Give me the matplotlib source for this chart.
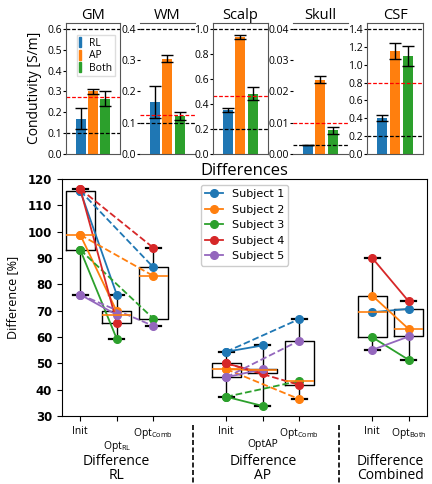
import numpy as np
import matplotlib as mpl
mpl.use('Agg')
import matplotlib.pyplot as plt  # noqa
import matplotlib.transforms as mtransforms  # noqa
from matplotlib.patches import Patch  # noqa

# conductivity estimates per tissue: RL, AP, Both
tissues = ['GM', 'WM', 'Scalp', 'Skull', 'CSF']
directions = ['RL', 'AP', 'Both']
gm_mean = [0.17, 0.302, 0.265]
gm_err = [0.05, 0.012, 0.037]
wm_mean = [0.166, 0.305, 0.122]
wm_err = [0.052, 0.012, 0.012]
scalp_mean = [0.352, 0.935, 0.483]
scalp_err = [0.018, 0.017, 0.055]
skull_mean = [0.003, 0.0238, 0.0076]
skull_err = [0.0, 0.0012, 0.0011]
csf_mean = [0.40, 1.155, 1.10]
csf_err = [0.035, 0.09, 0.11]
lit_value = [0.275, 0.126, 0.465, 0.010, 0.795]
lower_bound = [0.1, 0.1, 0.2, 0.003, 0.2]
upper_bound = [0.6, 0.4, 1.0, 0.04, 1.4]
ytick_step = [0.1, 0.1, 0.2, 0.01, 0.2]

# differences [%] per subject (1..5)
subjects = ['Subject 1', 'Subject 2', 'Subject 3', 'Subject 4', 'Subject 5']
init_rl = [115.5, 98.8, 93.1, 116.2, 76.1]
opt_rl = [76.1, 69.7, 59.3, 65.5, 68.4]
comb_rl = [86.5, 83.2, 67.0, 93.9, 64.2]
init_ap = [54.4, 47.8, 37.3, 50.0, 44.7]
opt_ap = [56.8, 47.3, 33.8, 46.2, 47.8]
comb_ap = [66.8, 36.4, 43.3, 41.8, 58.6]
init_both = [69.4, 75.7, 59.9, 90.0, 55.1]
opt_both = [70.7, 63.0, 51.3, 73.5, 60.2]
positions = [0, 1, 2, 4, 5, 6, 8, 9]
tick_labels = ['Init', 'Opt$_{RL}$', 'Opt$_{Comb}$', 'Init', 'OptAP',
               'Opt$_{Comb}$', 'Init', 'Opt$_{Both}$']
group_labels = ['Difference\nRL', 'Difference\nAP', 'Difference\nCombined']
group_x = [1, 5, 8.5]

colors = ['C0', 'C1', 'C2', 'C3', 'C4']
FONT = 'Open Sans'
plt.rcParams['mathtext.default'] = 'regular'

fig = plt.figure(figsize=(4.32, 4.84), dpi=100)

# ---- top row: conductivities
means = [gm_mean, wm_mean, scalp_mean, skull_mean, csf_mean]
errs = [gm_err, wm_err, scalp_err, skull_err, csf_err]
lefts = [0.153, 0.324, 0.493, 0.678, 0.8495]
widths = [0.125, 0.127, 0.127, 0.127, 0.13]
for i, name in enumerate(tissues):
    ax = fig.add_axes([lefts[i], 0.682, widths[i], 0.271])
    x = np.arange(3)
    ax.bar(x, means[i], width=0.8, color=colors[:3],
           yerr=errs[i], capsize=4,
           error_kw=dict(ecolor='black', elinewidth=1, capthick=1))
    ax.axhline(upper_bound[i], color='black', ls=(0, (3, 1.5)), lw=0.9)
    ax.axhline(lower_bound[i], color='black', ls=(0, (3, 1.5)), lw=0.9)
    ax.axhline(lit_value[i], color='red', ls=(0, (3, 1.5)), lw=0.9)
    ax.set_xlim(-1.2, 3.2)
    ax.set_ylim(0, upper_bound[i] * 1.05)
    ax.set_xticks([])
    ax.set_yticks(np.arange(0, upper_bound[i] + 1e-9, ytick_step[i]))
    if name == 'Skull':
        ax.set_yticklabels(['%.2f' % v for v in ax.get_yticks()])
    else:
        ax.set_yticklabels(['%.1f' % v for v in ax.get_yticks()])
    ax.tick_params(axis='y', labelsize=7.5, length=2, pad=1)
    for lab in ax.get_yticklabels():
        lab.set_family(FONT)
    for sp in ax.spines.values():
        sp.set_color('#555555')
    if name in ('WM', 'Skull'):
        ax.spines['left'].set_visible(False)
        ax.spines['right'].set_visible(False)
    ax.set_title(name, fontsize=10.5, family=FONT, pad=3)
    if i == 0:
        ax.set_ylabel('Condutivity [S/m]', fontsize=10, family=FONT, labelpad=4)
        handles = [Patch(color=c) for c in colors[:3]]
        ax.legend(handles, directions, loc='upper right',
                  bbox_to_anchor=(1.0, 0.95),
                  handlelength=0.15, handleheight=1.1, handletextpad=0.8,
                  borderpad=0.25, labelspacing=0.1, framealpha=1,
                  fancybox=False, edgecolor='#dddddd',
                  prop=dict(family=FONT, size=7.5))

# ---- bottom: differences
ax = fig.add_axes([0.1435, 0.1405, 0.845, 0.4897])
data = [init_rl, opt_rl, comb_rl, init_ap, opt_ap, comb_ap,
        init_both, opt_both]
ax.boxplot(data, positions=positions, widths=0.8, whis=(0, 100),
           showfliers=False,
           boxprops=dict(color='black', lw=1),
           whiskerprops=dict(color='black', lw=1),
           capprops=dict(color='black', lw=1.6),
           medianprops=dict(color='C1', lw=1.2))

groups = [(init_rl, opt_rl, comb_rl, 0), (init_ap, opt_ap, comb_ap, 4)]
for s in range(5):
    for init, opt, comb, x0 in groups:
        ax.plot([x0, x0 + 1], [init[s], opt[s]], '-o',
                color=colors[s], ms=5.5, lw=1.3)
        ax.plot([x0, x0 + 2], [init[s], comb[s]], '--o',
                color=colors[s], ms=5.5, lw=1.3)
    ax.plot([8, 9], [init_both[s], opt_both[s]], '-o',
            color=colors[s], ms=5.5, lw=1.3, label=subjects[s])

ax.set_xlim(-0.5, 9.5)
ax.set_ylim(30, 120)
ax.set_yticks(np.arange(30, 121, 10))
ax.tick_params(axis='y', labelsize=8.5)
for lab in ax.get_yticklabels():
    lab.set_fontweight('bold')
ax.set_xticks(positions)
ax.set_xticklabels(tick_labels, family=FONT, fontsize=7.5)
ax.tick_params(axis='x', length=3.5)
for k in (1, 4):
    ax.xaxis.get_major_ticks()[k].set_pad(13)
ax.set_ylabel('Difference [%]', fontsize=9, family=FONT, labelpad=6)
ax.set_title('Differences', fontsize=12, family=FONT, pad=3)
ax.legend(loc='upper center', fontsize=8, framealpha=1,
          handlelength=1.6, borderpad=0.4, labelspacing=0.5)

trans = mtransforms.blended_transform_factory(ax.transData, ax.transAxes)
for gx, glab in zip(group_x, group_labels):
    ax.text(gx, -0.222, glab, transform=trans, ha='center', va='center',
            fontsize=10, family=FONT, linespacing=0.95)
for sx in (3.1, 7.1):
    ax.plot([sx, sx], [-0.04, -0.29], transform=trans, color='black',
            ls=(0, (3, 1.5)), lw=1.2, clip_on=False)

fig.savefig('out.png', dpi=100)
